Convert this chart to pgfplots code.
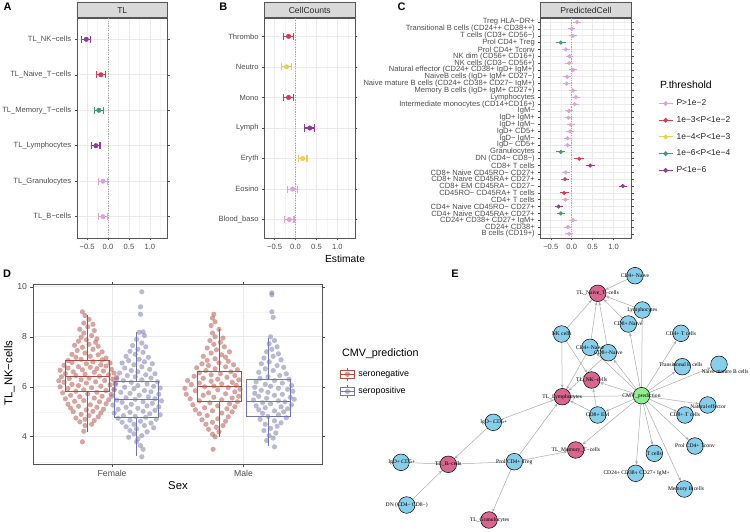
\documentclass[border=0pt]{standalone}
\usepackage{fontspec}
\setmainfont{Liberation Sans}
\newfontfamily\netfont{Liberation Serif}
\usepackage{pgfplots}
\pgfplotsset{compat=1.18}
\usepackage{pgfplotstable}
\usetikzlibrary{arrows.meta}

\definecolor{cPink}{HTML}{E0A0DA}
\definecolor{cRed}{HTML}{D63B55}
\definecolor{cYellow}{HTML}{F2CA55}
\definecolor{cGreen}{HTML}{3E9E70}
\definecolor{cPurple}{HTML}{8E3B9B}
\definecolor{cNeg}{HTML}{B24A42}
\definecolor{cPos}{HTML}{7373AD}
\definecolor{nBlue}{HTML}{87CEEB}
\definecolor{nPink}{HTML}{D9668E}
\definecolor{nGreen}{HTML}{90EE90}
\definecolor{border}{HTML}{555555}
\definecolor{gridmaj}{HTML}{EBEBEB}
\definecolor{gridmin}{HTML}{F5F5F5}
\definecolor{strip}{HTML}{D9D9D9}
\definecolor{tickc}{HTML}{4D4D4D}
\definecolor{edgec}{HTML}{AAAAAA}

\pgfplotstableread{
d y
-0.04 3.80
-0.03 4.22
-0.02 4.45
0.03 4.50
-0.06 4.60
0.05 4.65
-0.02 4.70
-0.09 4.75
0.08 4.80
0.01 4.85
-0.05 4.90
0.10 4.95
-0.11 5.00
0.04 5.02
-0.01 5.08
0.12 5.10
-0.13 5.15
0.07 5.18
-0.07 5.22
0.02 5.28
-0.15 5.30
0.14 5.32
0.09 5.40
-0.10 5.42
-0.03 5.45
0.16 5.48
-0.17 5.52
0.05 5.55
-0.06 5.60
0.11 5.62
-0.13 5.66
0.18 5.70
0.00 5.72
-0.19 5.76
0.07 5.78
-0.09 5.82
0.14 5.85
-0.03 5.88
0.20 5.90
-0.15 5.93
0.03 5.96
-0.21 6.00
0.10 6.02
-0.07 6.05
0.17 6.08
-0.12 6.10
0.21 6.14
-0.01 6.15
-0.18 6.18
0.06 6.20
-0.22 6.24
0.13 6.25
-0.05 6.28
0.19 6.30
-0.14 6.33
0.01 6.35
0.22 6.38
-0.20 6.40
0.09 6.42
-0.09 6.45
0.16 6.48
-0.02 6.50
-0.17 6.53
0.20 6.55
0.05 6.58
-0.11 6.60
0.12 6.63
-0.21 6.66
-0.04 6.68
0.18 6.70
0.07 6.73
-0.15 6.75
0.02 6.78
-0.07 6.80
0.14 6.83
-0.18 6.86
0.10 6.88
-0.01 6.92
0.17 6.95
-0.12 6.97
0.04 7.00
-0.15 7.05
0.11 7.08
-0.05 7.10
0.14 7.15
-0.09 7.18
0.02 7.22
0.08 7.28
-0.12 7.30
-0.02 7.35
0.11 7.40
-0.08 7.45
0.04 7.50
-0.04 7.58
0.08 7.62
-0.10 7.66
0.01 7.70
0.06 7.78
-0.07 7.82
-0.01 7.88
0.07 7.92
-0.05 7.98
0.03 8.05
-0.03 8.15
0.05 8.25
-0.06 8.30
0.00 8.40
0.04 8.50
-0.03 8.55
0.01 8.70
-0.02 8.85
-0.04 9.00
}\FN

\pgfplotstableread{
d y
0.04 9.80
0.03 9.20
0.03 8.90
0.05 8.20
0.02 8.18
0.06 8.05
0.00 7.90
0.04 7.75
-0.03 7.65
0.07 7.60
0.01 7.50
-0.05 7.42
0.05 7.38
-0.01 7.30
-0.08 7.22
0.09 7.18
0.02 7.10
-0.06 7.05
0.06 7.00
-0.11 6.95
0.12 6.92
-0.02 6.88
0.04 6.80
-0.09 6.75
0.10 6.70
-0.04 6.65
0.01 6.60
-0.13 6.55
0.14 6.52
0.07 6.48
-0.07 6.45
-0.01 6.40
0.11 6.35
-0.15 6.32
0.04 6.28
-0.10 6.25
0.16 6.20
-0.04 6.18
0.08 6.12
-0.16 6.10
0.01 6.05
0.13 6.02
-0.09 5.98
0.18 5.95
-0.02 5.92
-0.17 5.88
0.06 5.85
0.11 5.80
-0.12 5.78
-0.05 5.74
0.17 5.70
0.02 5.66
-0.19 5.62
0.09 5.60
-0.08 5.56
0.14 5.52
-0.01 5.50
-0.15 5.47
0.19 5.44
0.05 5.40
-0.11 5.38
0.12 5.34
-0.04 5.30
-0.18 5.27
0.08 5.24
0.17 5.20
-0.08 5.18
0.01 5.14
-0.14 5.10
0.14 5.06
0.05 5.02
-0.05 4.98
-0.17 4.95
0.10 4.92
0.18 4.88
-0.10 4.85
-0.01 4.82
0.07 4.78
-0.14 4.74
0.15 4.70
-0.05 4.66
0.03 4.62
-0.11 4.58
0.11 4.55
-0.02 4.50
0.06 4.45
-0.08 4.40
0.13 4.36
0.00 4.32
-0.05 4.25
0.08 4.20
-0.02 4.12
0.04 4.05
-0.06 3.98
0.01 3.92
0.00 3.80
0.03 3.65
0.05 3.50
0.04 3.20
}\FP

\pgfplotstableread{
d y
-0.045 3.50
-0.03 4.00
-0.05 4.10
0.00 4.20
-0.08 4.30
-0.02 4.38
0.03 4.45
-0.10 4.50
-0.05 4.58
0.05 4.62
-0.13 4.68
-0.01 4.72
0.07 4.80
-0.09 4.85
-0.15 4.92
0.02 4.95
0.10 5.00
-0.05 5.04
-0.18 5.08
0.06 5.12
-0.11 5.16
0.12 5.20
-0.01 5.24
-0.20 5.28
0.08 5.32
-0.07 5.36
0.14 5.40
-0.15 5.44
0.02 5.48
-0.22 5.52
0.10 5.55
-0.04 5.58
0.15 5.62
-0.12 5.66
-0.25 5.70
0.05 5.72
-0.08 5.76
0.12 5.80
-0.18 5.84
-0.01 5.88
0.16 5.90
-0.26 5.94
0.07 5.97
-0.11 6.00
-0.04 6.03
0.13 6.06
-0.21 6.09
0.02 6.12
-0.15 6.15
0.10 6.18
-0.06 6.22
-0.24 6.25
0.15 6.28
-0.01 6.30
-0.12 6.34
0.06 6.38
-0.19 6.42
0.12 6.45
-0.06 6.48
0.01 6.52
-0.15 6.56
0.09 6.60
-0.10 6.65
0.14 6.68
-0.03 6.72
-0.17 6.76
0.05 6.80
-0.08 6.85
0.11 6.88
-0.13 6.92
0.00 6.96
0.07 7.02
-0.09 7.06
-0.03 7.12
0.05 7.18
-0.12 7.22
0.02 7.28
-0.06 7.35
0.08 7.40
-0.02 7.48
-0.09 7.55
0.04 7.60
-0.04 7.70
0.01 7.78
-0.07 7.85
0.03 7.95
-0.03 8.00
-0.05 8.15
0.00 8.30
-0.06 8.45
-0.03 8.60
-0.05 8.75
-0.04 8.90
}\MN

\pgfplotstableread{
d y
0.03 9.76
0.03 9.68
0.03 9.00
0.04 8.78
0.02 8.00
0.05 7.85
0.01 7.72
0.07 7.60
0.03 7.50
-0.01 7.40
0.08 7.32
0.04 7.22
-0.03 7.15
0.10 7.08
0.01 7.00
-0.05 6.92
0.07 6.85
0.12 6.78
-0.02 6.72
0.04 6.65
-0.07 6.58
0.14 6.52
0.09 6.45
0.00 6.40
-0.06 6.34
0.16 6.30
0.05 6.25
-0.09 6.20
0.11 6.15
-0.02 6.10
0.18 6.06
0.02 6.02
-0.10 5.98
0.08 5.94
0.15 5.90
-0.05 5.86
0.19 5.82
0.00 5.78
-0.10 5.74
0.11 5.70
0.05 5.66
-0.07 5.62
0.17 5.58
-0.01 5.54
0.20 5.50
-0.11 5.47
0.08 5.44
0.13 5.40
-0.04 5.36
0.02 5.32
0.18 5.28
-0.09 5.24
0.10 5.20
-0.02 5.16
0.15 5.12
-0.07 5.08
0.05 5.04
0.12 5.00
-0.04 4.94
0.08 4.88
0.00 4.82
0.14 4.76
-0.06 4.70
0.05 4.64
0.10 4.56
-0.02 4.50
0.07 4.42
0.02 4.34
-0.03 4.25
0.06 4.15
0.01 4.05
0.04 3.95
-0.01 3.85
0.05 3.60
}\MP

\pgfplotsset{
 forest/.style={
  scale only axis, width=90.5bp, height=220bp, anchor=south west,
  xmin=-0.74, xmax=1.42,
  xtick={-0.5,0,0.5,1}, xticklabels={−0.5,0.0,0.5,1.0},
  minor xtick={-0.25,0.25,0.75,1.25},
  xmajorgrids, xminorgrids, ymajorgrids,
  major grid style={draw=gridmaj, line width=0.6bp},
  minor grid style={draw=gridmin, line width=0.35bp},
  axis line style={draw=border, line width=0.6bp},
  tick align=outside, major tick length=2.4bp, minor tick length=0bp,
  tick style={draw=tickc, line width=0.5bp},
  ticklabel style={font=\fontsize{7.6}{8}\selectfont, text=tickc},
  y dir=reverse,
  every axis title shift=0pt,
  title style={at={(0.5,1)}, anchor=south, fill=strip, draw=border, line width=0.6bp,
    minimum width=90.5bp, minimum height=15bp, inner sep=0pt,
    font=\fontsize{8.6}{9}\selectfont, text=black!85},
 },
 zeroline/.style={draw=gray!70, line width=0.5bp, dash pattern=on 1.2bp off 1.2bp, forget plot},
 estAB/.style={only marks, color=#1, mark=*, mark size=2.3bp, mark options={draw=#1, fill=#1}, forget plot,
   error bars/.cd, x dir=both, x explicit, error bar style={line width=1.1bp, draw=#1},
   error mark=|, error mark options={line width=1.1bp, draw=#1, mark size=3.6bp}},
 estC/.style={only marks, color=#1, mark=*, mark size=1.9bp, mark options={draw=#1, fill=#1}, forget plot,
   error bars/.cd, x dir=both, x explicit, error bar style={line width=0.9bp, draw=#1}, error mark=none},
 edge/.style={draw=edgec, line width=0.5bp, -{Stealth[length=3.6bp,width=2.8bp]}, shorten >=8.7bp, shorten <=8.3bp, forget plot},
 netnode/.style={only marks, mark=*, mark size=8.3bp, mark options={fill=#1, draw=black, line width=0.5bp}, forget plot},
 sina/.style={only marks, color=#1, mark=*, mark size=2.6bp, mark options={draw=#1, draw opacity=0, fill=#1, fill opacity=0.5}, forget plot},
 bx/.style={draw=#1, line width=0.8bp, mark=none, forget plot},
}

\begin{document}
\begin{tikzpicture}[x=1bp,y=1bp]
\useasboundingbox (0bp,0bp) rectangle (750bp,532bp);

% ---------------- Panel A ----------------
\begin{axis}[forest, at={(77bp,294bp)}, title={TL},
  ymin=0.4, ymax=6.6, ytick={1,...,6},
  yticklabels={TL\_NK−cells,TL\_Naive\_T−cells,TL\_Memory\_T−cells,TL\_Lymphocytes,TL\_Granulocytes,TL\_B−cells}]
\addplot[zeroline] coordinates {(0,0) (0,7)};
\addplot[estAB=cPink] coordinates {(-0.12,5) +- (0.11,0) (-0.12,6) +- (0.11,0)};
\addplot[estAB=cGreen] coordinates {(-0.22,3) +- (0.11,0)};
\addplot[estAB=cRed] coordinates {(-0.17,2) +- (0.10,0)};
\addplot[estAB=cPurple] coordinates {(-0.52,1) +- (0.11,0) (-0.29,4) +- (0.10,0)};
\end{axis}

% ---------------- Panel B ----------------
\begin{axis}[forest, at={(264.5bp,294bp)}, title={CellCounts},
  ymin=0.4, ymax=7.6, ytick={1,...,7},
  yticklabels={Thrombo,Neutro,Mono,Lymph,Eryth,Eosino,Blood\_baso}]
\addplot[zeroline] coordinates {(0,0) (0,8)};
\addplot[estAB=cPink] coordinates {(-0.07,6) +- (0.12,0) (-0.15,7) +- (0.115,0)};
\addplot[estAB=cYellow] coordinates {(-0.215,2) +- (0.115,0) (0.17,5) +- (0.105,0)};
\addplot[estAB=cRed] coordinates {(-0.165,1) +- (0.115,0) (-0.165,3) +- (0.12,0)};
\addplot[estAB=cPurple] coordinates {(0.34,4) +- (0.12,0)};
\end{axis}

% ---------------- Panel C ----------------
\begin{axis}[forest, at={(540.7bp,294bp)}, title={PredictedCell},
  ymin=0.4, ymax=32.6, ytick={1,...,32},
  yticklabels={Treg HLA−DR+,Transitional B cells (CD24++ CD38++),T cells (CD3+ CD56−),Prol CD4+ Treg,Prol CD4+ Tconv,NK dim (CD56+ CD16+),NK cells (CD3− CD56+),Natural effector (CD24+ CD38+ IgD+ IgM+),NaiveB cells (IgD+ IgM+ CD27−),Naive mature B cells (CD24+ CD38+ CD27− IgM+),Memory B cells (IgD+ IgM+ CD27+),Lymphocytes,Intermediate monocytes (CD14+CD16+),IgM−,IgD+ IgM+,IgD+ IgM−,IgD+ CD5+,IgD− IgM−,IgD− CD5+,Granulocytes,DN (CD4− CD8−),CD8+ T cells,CD8+ Naive CD45RO− CD27+,CD8+ Naive CD45RA+ CD27+,CD8+ EM CD45RA− CD27−,CD45RO− CD45RA+ T cells,CD4+ T cells,CD4+ Naive CD45RO− CD27+,CD4+ Naive CD45RA+ CD27+,CD24+ CD38+ CD27+ IgM+,CD24+ CD38+,B cells (CD19+)},
  legend style={at={(1.296,0.650)}, anchor=north west, draw=none, fill=none,
    font=\fontsize{8.5}{9}\selectfont, text=black!85, row sep=0pt, inner sep=0pt,
    nodes={minimum height=16.7bp, inner ysep=0pt, inner xsep=3.5bp}},
  legend cell align=left,
  legend image code/.code={\draw[mark repeat=2,mark phase=2,#1] plot coordinates {(0bp,0bp) (7bp,0bp) (14bp,0bp)};}]
\addplot[zeroline] coordinates {(0,0) (0,33)};
\addplot[estC=cPink] coordinates {
 (0.13,1) +- (0.10,0) (0.00,2) +- (0.09,0) (0.03,3) +- (0.09,0) (-0.14,5) +- (0.09,0)
 (-0.05,6) +- (0.09,0) (-0.06,7) +- (0.09,0) (0.03,8) +- (0.09,0) (-0.11,9) +- (0.09,0)
 (-0.12,10) +- (0.09,0) (0.03,11) +- (0.09,0) (0.10,12) +- (0.10,0) (0.07,13) +- (0.10,0)
 (-0.07,14) +- (0.09,0) (-0.08,15) +- (0.09,0) (-0.02,16) +- (0.09,0) (-0.04,17) +- (0.09,0)
 (-0.10,18) +- (0.09,0) (-0.10,19) +- (0.09,0) (-0.14,23) +- (0.09,0) (-0.15,27) +- (0.09,0)
 (0.03,30) +- (0.10,0) (-0.09,31) +- (0.09,0) (-0.06,32) +- (0.09,0)};
\addplot[estC=cGreen] coordinates {(-0.26,4) +- (0.12,0) (-0.26,20) +- (0.11,0) (-0.26,29) +- (0.10,0)};
\addplot[estC=cRed] coordinates {(0.18,21) +- (0.12,0) (-0.16,24) +- (0.10,0) (-0.18,26) +- (0.11,0)};
\addplot[estC=cPurple] coordinates {(0.44,22) +- (0.11,0) (1.22,25) +- (0.10,0) (-0.31,28) +- (0.10,0)};
\addlegendimage{cPink, line width=0.9bp, mark=*, mark size=1.9bp}
\addlegendentry{P>1e−2}
\addlegendimage{cRed, line width=0.9bp, mark=*, mark size=1.9bp}
\addlegendentry{1e−3<P<1e−2}
\addlegendimage{cYellow, line width=0.9bp, mark=*, mark size=1.9bp}
\addlegendentry{1e−4<P<1e−3}
\addlegendimage{cGreen, line width=0.9bp, mark=*, mark size=1.9bp}
\addlegendentry{1e−6<P<1e−4}
\addlegendimage{cPurple, line width=0.9bp, mark=*, mark size=1.9bp}
\addlegendentry{P<1e−6}
\end{axis}

% ---------------- Panel D ----------------
\begin{axis}[at={(33.3bp,67.7bp)}, anchor=south west, scale only axis, width=289bp, height=180bp,
  xmin=0.4, xmax=2.6, ymin=2.9, ymax=10.1,
  xtick={1,2}, xticklabels={Female,Male},
  ytick={4,6,8,10}, minor ytick={3,5,7,9},
  /pgf/number format/assume math mode=true,
  xmajorgrids, ymajorgrids, yminorgrids,
  major grid style={draw=gridmaj, line width=0.7bp},
  minor grid style={draw=gridmin, line width=0.4bp},
  axis line style={draw=border, line width=0.6bp},
  tick align=outside, major tick length=2.8bp, minor tick length=0bp,
  tick style={draw=tickc, line width=0.6bp},
  ticklabel style={font=\fontsize{8.7}{9}\selectfont, text=tickc},
  legend style={at={(1.061,0.5497)}, anchor=north west, draw=none, fill=none,
    font=\fontsize{8.9}{9}\selectfont, row sep=0pt, inner sep=0pt,
    nodes={minimum height=17.3bp, inner ysep=0pt, inner xsep=3.5bp}},
  legend cell align=left]
% boxes (Q1, Q3, median, whiskers)
\addplot[bx=cNeg] coordinates {(0.6465,5.8) (0.9815,5.8) (0.9815,7.07) (0.6465,7.07) (0.6465,5.8)};
\addplot[bx=cNeg] coordinates {(0.6465,6.4) (0.9815,6.4)};
\addplot[bx=cNeg] coordinates {(0.814,7.07) (0.814,8.87)};
\addplot[bx=cNeg] coordinates {(0.814,5.8) (0.814,4.2)};
\addplot[bx=cPos] coordinates {(1.0185,4.77) (1.3535,4.77) (1.3535,6.2) (1.0185,6.2) (1.0185,4.77)};
\addplot[bx=cPos] coordinates {(1.0185,5.5) (1.3535,5.5)};
\addplot[bx=cPos] coordinates {(1.186,6.2) (1.186,8.2)};
\addplot[bx=cPos] coordinates {(1.186,4.77) (1.186,3.23)};
\addplot[bx=cNeg] coordinates {(1.6465,5.4) (1.9815,5.4) (1.9815,6.6) (1.6465,6.6) (1.6465,5.4)};
\addplot[bx=cNeg] coordinates {(1.6465,6.03) (1.9815,6.03)};
\addplot[bx=cNeg] coordinates {(1.814,6.6) (1.814,8.3)};
\addplot[bx=cNeg] coordinates {(1.814,5.4) (1.814,4.0)};
\addplot[bx=cPos] coordinates {(2.0185,4.83) (2.3535,4.83) (2.3535,6.3) (2.0185,6.3) (2.0185,4.83)};
\addplot[bx=cPos] coordinates {(2.0185,5.4) (2.3535,5.4)};
\addplot[bx=cPos] coordinates {(2.186,6.3) (2.186,7.97)};
\addplot[bx=cPos] coordinates {(2.186,4.83) (2.186,3.63)};
% sina points
\addplot[sina=cNeg] table[x expr=\thisrow{d}+0.814, y=y] {\FN};
\addplot[sina=cPos] table[x expr=\thisrow{d}+1.186, y=y] {\FP};
\addplot[sina=cNeg] table[x expr=\thisrow{d}+1.814, y=y] {\MN};
\addplot[sina=cPos] table[x expr=\thisrow{d}+2.186, y=y] {\MP};
\addlegendimage{legend image code/.code={
  \draw[cNeg, line width=0.7bp] (0bp,-3.8bp) rectangle (14bp,3.8bp);
  \draw[cNeg, line width=0.7bp] (0bp,0bp) -- (14bp,0bp);
  \draw[cNeg, line width=0.7bp] (7bp,3.8bp) -- (7bp,6.5bp) (7bp,-3.8bp) -- (7bp,-6.5bp);
  \fill[cNeg, opacity=0.5] (7bp,0bp) circle (2.4bp);}}
\addlegendentry{seronegative}
\addlegendimage{legend image code/.code={
  \draw[cPos, line width=0.7bp] (0bp,-3.8bp) rectangle (14bp,3.8bp);
  \draw[cPos, line width=0.7bp] (0bp,0bp) -- (14bp,0bp);
  \draw[cPos, line width=0.7bp] (7bp,3.8bp) -- (7bp,6.5bp) (7bp,-3.8bp) -- (7bp,-6.5bp);
  \fill[cPos, opacity=0.5] (7bp,0bp) circle (2.4bp);}}
\addlegendentry{seropositive}
\end{axis}

% ---------------- Panel E ----------------
\begin{axis}[at={(380bp,0bp)}, anchor=south west, scale only axis, width=370bp, height=270bp,
  xmin=380, xmax=750, ymin=0, ymax=270, hide axis, clip=false]
\addplot[edge] coordinates {(635,256.3) (597.7,238.7)};
\addplot[edge] coordinates {(642.3,222) (597.7,238.7)};
\addplot[edge] coordinates {(628.3,208) (597.7,238.7)};
\addplot[edge] coordinates {(561.7,198) (597.7,238.7)};
\addplot[edge] coordinates {(590,184.7) (597.7,238.7)};
\addplot[edge] coordinates {(608.3,179.3) (597.7,238.7)};
\addplot[edge] coordinates {(561.7,198) (562.3,135.3)};
\addplot[edge] coordinates {(561.7,198) (591.7,152)};
\addplot[edge] coordinates {(590,184.7) (562.3,135.3)};
\addplot[edge] coordinates {(608.3,179.3) (562.3,135.3)};
\addplot[edge] coordinates {(641.5,136.3) (590,184.7)};
\addplot[edge] coordinates {(641.5,136.3) (608.3,179.3)};
\addplot[edge] coordinates {(641.5,136.3) (628.3,208)};
\addplot[edge] coordinates {(641.5,136.3) (642.3,222)};
\addplot[edge] coordinates {(641.5,136.3) (681,198.7)};
\addplot[edge] coordinates {(641.5,136.3) (682.3,165.3)};
\addplot[edge] coordinates {(641.5,136.3) (719,167.7)};
\addplot[edge] coordinates {(641.5,136.3) (591.7,152)};
\addplot[edge] coordinates {(641.5,136.3) (562.3,135.3)};
\addplot[edge] coordinates {(641.5,136.3) (707.7,127)};
\addplot[edge] coordinates {(641.5,136.3) (685,117)};
\addplot[edge] coordinates {(641.5,136.3) (597.7,117)};
\addplot[edge] coordinates {(641.5,136.3) (575.7,82)};
\addplot[edge] coordinates {(641.5,136.3) (654.3,78.7)};
\addplot[edge] coordinates {(641.5,136.3) (695,86)};
\addplot[edge] coordinates {(641.5,136.3) (635.7,58.7)};
\addplot[edge] coordinates {(641.5,136.3) (684.3,43)};
\addplot[edge] coordinates {(597.7,117) (562.3,135.3)};
\addplot[edge] coordinates {(597.7,117) (591.7,152)};
\addplot[edge] coordinates {(493.3,109.7) (562.3,135.3)};
\addplot[edge] coordinates {(493.3,109.7) (448.3,67.7)};
\addplot[edge] coordinates {(401,69.7) (448.3,67.7)};
\addplot[edge] coordinates {(406.7,27) (448.3,67.7)};
\addplot[edge] coordinates {(514.3,70.3) (448.3,67.7)};
\addplot[edge] coordinates {(514.3,70.3) (562.3,135.3)};
\addplot[edge] coordinates {(514.3,70.3) (575.7,82)};
\addplot[edge] coordinates {(514.3,70.3) (489,12)};
\addplot[netnode=nBlue] coordinates {(635,256.3) (642.3,222) (628.3,208) (681,198.7) (561.7,198)
  (590,184.7) (608.3,179.3) (682.3,165.3) (719,167.7) (707.7,127) (685,117) (597.7,117)
  (493.3,109.7) (654.3,78.7) (695,86) (514.3,70.3) (635.7,58.7) (684.3,43) (401,69.7) (406.7,27)};
\addplot[netnode=nPink] coordinates {(597.7,238.7) (591.7,152) (562.3,135.3) (575.7,82) (489,12) (448.3,67.7)};
\addplot[netnode=nGreen] coordinates {(641.5,136.3)};
\addplot[only marks, mark=*, mark size=0.01bp, mark options={draw=none, fill=none}, forget plot,
  point meta=explicit symbolic, nodes near coords,
  every node near coord/.style={anchor=center, inner sep=0pt, font=\netfont\fontsize{5.6}{6}\selectfont, text=black}]
  coordinates {(635,256.3)[CD4+ Naive] (597.7,238.7)[TL\_Naive\_T−cells] (642.3,222)[Lymphocytes]
  (628.3,208)[CD8+ Naive] (681,198.7)[CD4+ T cells] (561.7,198)[NK cells] (590,184.7)[CD4+ Naive]
  (608.3,179.3)[CD8+ Naive] (680.8,167.7)[Transitional B cells] (725,160.3)[Naive mature B cells]
  (591.7,152)[TL\_NK−cells] (562.3,135.3)[TL\_Lymphocytes] (641.5,136.3)[CMV\_prediction]
  (708,125.3)[Natural effector] (685,117)[CD8+ T cells] (597.7,117)[CD8+ EM] (493.7,109.7)[IgD− CD5+]
  (575.8,82)[TL\_Memory\_T−cells] (654.3,78.7)[T cells] (695,86)[Prol CD4+ Tconv]
  (514.3,70.3)[Prol CD4+ Treg] (636.7,58.7)[CD24+ CD38+ CD27+ IgM+] (686,43)[Memory B cells]
  (489.7,12)[TL\_Granulocytes] (401.7,69.7)[IgD+ CD5+] (448.3,67.7)[TL\_B−cells] (406.7,27)[DN (CD4− CD8−)]};
\end{axis}

% ---------------- titles and labels ----------------
\node[font=\fontsize{10.3}{11}\selectfont] at (345bp,273bp) {Estimate};
\node[anchor=west, font=\fontsize{10.5}{11}\selectfont] at (656.7bp,447bp) {P.threshold};
\node[anchor=west, font=\fontsize{10.8}{11}\selectfont] at (338.5bp,178bp) {CMV\_prediction};
\node[rotate=90, font=\fontsize{11.4}{12}\selectfont] at (9.3bp,159bp) {TL\_NK−cells};
\node[font=\fontsize{11.4}{12}\selectfont] at (178bp,46.3bp) {Sex};
\node[font=\bfseries\fontsize{11}{12}\selectfont] at (7.5bp,525bp) {A};
\node[font=\bfseries\fontsize{11}{12}\selectfont] at (223.3bp,525bp) {B};
\node[font=\bfseries\fontsize{11}{12}\selectfont] at (401.7bp,525bp) {C};
\node[font=\bfseries\fontsize{11}{12}\selectfont] at (7bp,258bp) {D};
\node[font=\bfseries\fontsize{11}{12}\selectfont] at (455bp,258bp) {E};
\end{tikzpicture}
\end{document}
